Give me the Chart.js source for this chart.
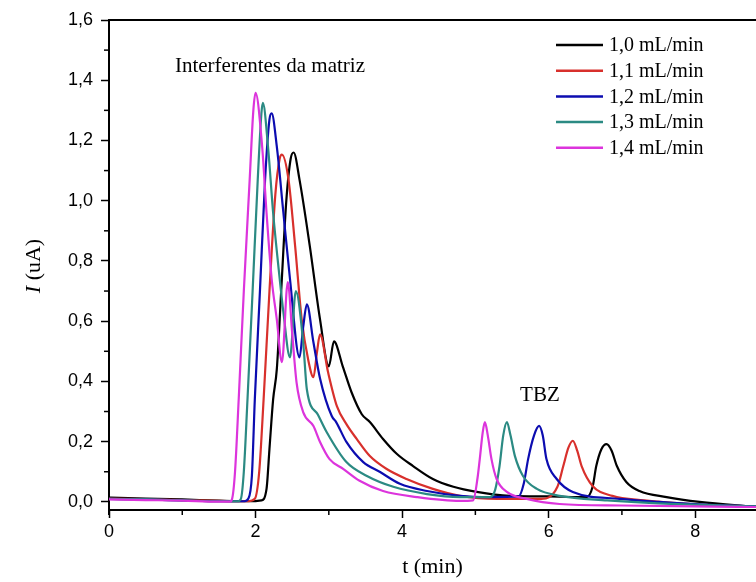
<!DOCTYPE html>
<html>
<head>
<meta charset="utf-8">
<script src="https://cdn.jsdelivr.net/npm/chart.js@4.4.1/dist/chart.umd.min.js"></script>
<style>
  html, body { margin: 0; padding: 0; background: #fff; overflow: hidden; }
  #wrap { width: 756px; height: 582px; }
</style>
</head>
<body>
<div id="wrap"><canvas id="fluxChart" width="756" height="582"></canvas></div>
<script>
// flow rates (legend)
var labels = ['1,0 mL/min', '1,1 mL/min', '1,2 mL/min', '1,3 mL/min', '1,4 mL/min'];
var colors = ['#000000', '#d8302c', '#0c0cb0', '#2b8a83', '#dc34dc'];

// t (min) / I (uA)
var t10 = [0, 0.5, 1.0, 1.5, 1.9, 2.08, 2.15, 2.19, 2.24, 2.29, 2.35, 2.42, 2.48, 2.52, 2.6, 2.74, 2.88, 3.0, 3.07, 3.19, 3.31, 3.45, 3.56, 3.74, 3.93, 4.15, 4.42, 4.7, 5.02, 5.47, 6.0, 6.52, 6.6, 6.65, 6.72, 6.79, 6.86, 6.93, 7.06, 7.24, 7.61, 8.06, 8.83];
var i10 = [0.014, 0.011, 0.008, 0.004, 0.002, 0.005, 0.043, 0.176, 0.34, 0.44, 0.7, 1.0, 1.14, 1.16, 1.07, 0.85, 0.606, 0.45, 0.533, 0.45, 0.364, 0.291, 0.265, 0.209, 0.159, 0.119, 0.076, 0.05, 0.033, 0.02, 0.018, 0.016, 0.05, 0.119, 0.175, 0.192, 0.17, 0.12, 0.066, 0.036, 0.016, 0.0, -0.017];

var t11 = [0, 0.5, 1.0, 1.5, 1.9, 1.99, 2.05, 2.11, 2.19, 2.27, 2.33, 2.36, 2.45, 2.54, 2.63, 2.72, 2.79, 2.84, 2.88, 2.99, 3.11, 3.24, 3.38, 3.56, 3.79, 4.06, 4.42, 4.79, 5.3, 5.9, 6.12, 6.2, 6.27, 6.33, 6.39, 6.45, 6.6, 6.87, 7.3, 8.0, 8.83];
var i11 = [0.011, 0.009, 0.006, 0.003, 0.002, 0.01, 0.1, 0.34, 0.7, 1.02, 1.14, 1.153, 1.07, 0.85, 0.606, 0.47, 0.414, 0.5, 0.556, 0.43, 0.318, 0.258, 0.209, 0.152, 0.109, 0.076, 0.043, 0.02, 0.01, 0.01, 0.05, 0.119, 0.18, 0.203, 0.17, 0.119, 0.053, 0.02, 0.005, -0.008, -0.015];

var t12 = [0, 0.5, 1.0, 1.5, 1.85, 1.9, 1.95, 1.99, 2.06, 2.13, 2.19, 2.22, 2.29, 2.38, 2.47, 2.6, 2.65, 2.7, 2.79, 2.88, 3.04, 3.1, 3.24, 3.47, 3.7, 3.97, 4.34, 4.79, 5.2, 5.59, 5.66, 5.72, 5.8, 5.87, 5.92, 5.97, 6.11, 6.33, 6.97, 7.5, 8.2, 8.83];
var i12 = [0.01, 0.008, 0.005, 0.002, 0.002, 0.01, 0.086, 0.34, 0.7, 1.07, 1.27, 1.29, 1.18, 0.96, 0.74, 0.48, 0.58, 0.656, 0.53, 0.41, 0.285, 0.265, 0.199, 0.132, 0.099, 0.06, 0.036, 0.02, 0.016, 0.018, 0.06, 0.142, 0.22, 0.252, 0.22, 0.142, 0.076, 0.033, 0.01, 0.0, -0.01, -0.015];

var t13 = [0, 0.5, 1.0, 1.5, 1.76, 1.8, 1.84, 1.89, 1.96, 2.03, 2.08, 2.1, 2.17, 2.24, 2.33, 2.38, 2.47, 2.55, 2.65, 2.7, 2.85, 2.97, 3.24, 3.52, 3.88, 4.34, 4.79, 5.2, 5.27, 5.33, 5.38, 5.43, 5.48, 5.54, 5.65, 5.84, 6.15, 6.8, 7.5, 8.83];
var i13 = [0.01, 0.008, 0.005, 0.002, 0.002, 0.01, 0.1, 0.34, 0.7, 1.07, 1.29, 1.325, 1.18, 0.96, 0.74, 0.63, 0.48, 0.7, 0.53, 0.374, 0.29, 0.232, 0.132, 0.086, 0.05, 0.026, 0.016, 0.016, 0.04, 0.119, 0.22, 0.265, 0.22, 0.152, 0.086, 0.043, 0.02, 0.005, -0.005, -0.015];

var t14 = [0, 0.5, 1.0, 1.5, 1.65, 1.68, 1.72, 1.77, 1.84, 1.92, 1.97, 2.0, 2.09, 2.15, 2.22, 2.29, 2.36, 2.44, 2.5, 2.56, 2.65, 2.79, 2.88, 3.01, 3.2, 3.42, 3.74, 4.2, 4.79, 4.97, 5.03, 5.06, 5.1, 5.13, 5.17, 5.22, 5.29, 5.43, 5.7, 6.15, 7.0, 8.0, 8.83];
var i14 = [0.008, 0.006, 0.004, 0.001, 0.001, 0.01, 0.1, 0.34, 0.7, 1.07, 1.3, 1.358, 1.18, 0.96, 0.74, 0.606, 0.464, 0.73, 0.56, 0.396, 0.298, 0.252, 0.199, 0.142, 0.109, 0.07, 0.036, 0.016, 0.003, 0.005, 0.08, 0.142, 0.23, 0.265, 0.22, 0.142, 0.076, 0.033, 0.01, -0.007, -0.012, -0.015, -0.017];

var xTicks = [0, 2, 4, 6, 8];
var xMinor = [1, 3, 5, 7];
var yTicks = [0, 0.2, 0.4, 0.6, 0.8, 1.0, 1.2, 1.4, 1.6];
var yMinor = [0.1, 0.3, 0.5, 0.7, 0.9, 1.1, 1.3, 1.5];

var times = [t10, t11, t12, t13, t14];
var currents = [i10, i11, i12, i13, i14];

function pts(ts, is) {
    return ts.map(function (t, k) { return { x: t, y: is[k] }; });
}

var datasets = labels.map(function (lab, k) {
    return {
        label: lab,
        data: pts(times[k], currents[k]),
        borderColor: colors[k],
        borderWidth: 2.2,
        pointRadius: 0,
        fill: false,
        cubicInterpolationMode: 'monotone',
        order: 4 - k
    };
});

var serif = '"Liberation Serif", "Times New Roman", serif';
var sans = '"Liberation Sans", Arial, sans-serif';

function fmt(v) {
    return v.toFixed(1).replace('.', ',');
}

// frame top line, minor ticks, legend, y title, notes
var extras = {
    id: 'extras',
    afterDraw: function (chart) {
        var ctx = chart.ctx;
        var a = chart.chartArea;
        var xs = chart.scales.x, ys = chart.scales.y;
        ctx.save();
        ctx.strokeStyle = '#000';
        ctx.lineWidth = 2;
        ctx.beginPath();
        ctx.moveTo(a.left - 1, a.top);
        ctx.lineTo(a.right, a.top);
        ctx.stroke();

        // y axis runs a little below the x axis
        ctx.beginPath();
        ctx.moveTo(a.left, a.bottom);
        ctx.lineTo(a.left, a.bottom + 5);
        ctx.stroke();

        ctx.lineWidth = 1.5;
        xMinor.forEach(function (v) {
            var px = xs.getPixelForValue(v);
            ctx.beginPath();
            ctx.moveTo(px, a.bottom);
            ctx.lineTo(px, a.bottom + 5);
            ctx.stroke();
        });
        yMinor.forEach(function (v) {
            var py = ys.getPixelForValue(v);
            ctx.beginPath();
            ctx.moveTo(a.left, py);
            ctx.lineTo(a.left - 5, py);
            ctx.stroke();
        });

        // legend
        ctx.textBaseline = 'middle';
        ctx.textAlign = 'left';
        ctx.font = '20px ' + serif;
        labels.forEach(function (lab, k) {
            var y = 45 + k * 25.7;
            ctx.strokeStyle = colors[k];
            ctx.lineWidth = 2.5;
            ctx.beginPath();
            ctx.moveTo(556, y);
            ctx.lineTo(603, y);
            ctx.stroke();
            ctx.fillStyle = '#000';
            ctx.fillText(lab, 609, y + 1);
        });

        // y title: italic I + (uA)
        ctx.save();
        ctx.translate(34, 266);
        ctx.rotate(-Math.PI / 2);
        ctx.fillStyle = '#000';
        ctx.textBaseline = 'middle';
        ctx.font = 'italic 22px ' + serif;
        var w1 = ctx.measureText('I').width;
        ctx.font = '22px ' + serif;
        var w2 = ctx.measureText(' (uA)').width;
        var x0 = -(w1 + w2) / 2;
        ctx.font = 'italic 22px ' + serif;
        ctx.fillText('I', x0, 0);
        ctx.font = '22px ' + serif;
        ctx.fillText(' (uA)', x0 + w1, 0);
        ctx.restore();

        // notes
        ctx.fillStyle = '#000';
        ctx.textBaseline = 'alphabetic';
        ctx.font = '21px ' + serif;
        ctx.fillText('Interferentes da matriz', xs.getPixelForValue(0.9), ys.getPixelForValue(1.427));
        ctx.fillText('TBZ', xs.getPixelForValue(5.61), ys.getPixelForValue(0.335));
        ctx.restore();
    }
};

new Chart(document.getElementById('fluxChart'), {
    type: 'line',
    data: { datasets: datasets },
    options: {
        responsive: false,
        animation: false,
        layout: { padding: { top: 20, right: 0, left: 0, bottom: 0 } },
        plugins: {
            legend: { display: false },
            tooltip: { enabled: false }
        },
        scales: {
            x: {
                type: 'linear',
                min: 0,
                max: 8.83,
                afterFit: function (s) { s.height = 72; },
                afterBuildTicks: function (s) {
                    s.ticks = xTicks.map(function (v) { return { value: v }; });
                },
                grid: {
                    drawOnChartArea: false,
                    color: '#000',
                    tickLength: 8,
                    tickWidth: 1.5
                },
                border: { color: '#000', width: 2 },
                ticks: {
                    color: '#000',
                    padding: 3,
                    maxRotation: 0,
                    font: { family: sans, size: 18 },
                    callback: function (v) { return String(v); }
                },
                title: {
                    display: true,
                    text: 't (min)',
                    color: '#000',
                    font: { family: serif, size: 22 },
                    padding: { top: 0, bottom: 2 }
                }
            },
            y: {
                type: 'linear',
                min: -0.027,
                max: 1.6,
                afterFit: function (s) { s.width = 109; },
                afterBuildTicks: function (s) {
                    s.ticks = yTicks.map(function (v) { return { value: v }; });
                },
                grid: {
                    drawOnChartArea: false,
                    color: '#000',
                    tickLength: 8,
                    tickWidth: 1.5
                },
                border: { color: '#000', width: 2 },
                ticks: {
                    color: '#000',
                    padding: 8,
                    font: { family: sans, size: 18 },
                    callback: function (v) { return fmt(v); }
                }
            }
        }
    },
    plugins: [extras]
});
</script>
</body>
</html>
